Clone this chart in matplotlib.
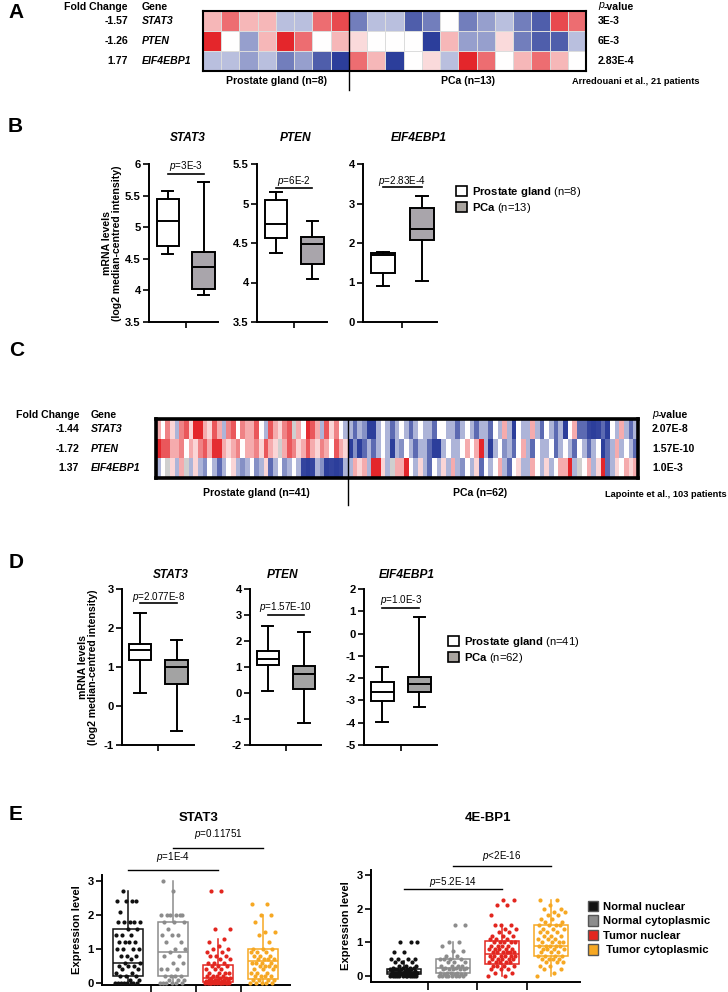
import matplotlib
matplotlib.use('Agg')
import matplotlib.pyplot as plt
import numpy as np
from matplotlib import font_manager
from matplotlib.colors import LinearSegmentedColormap
from matplotlib.patches import Patch

nan = np.nan

# ---------------- data ----------------
genes = ['STAT3', 'PTEN', 'EIF4EBP1']

# panel A heatmap (8 prostate gland + 13 PCa), colour level -3..3
A_fold = ['-1.57', '-1.26', '1.77']
A_pval = ['3E-3', '6E-3', '2.83E-4']
A_stat3 = [1, 2, 1, 1, -1, -1, 2, 2.5, -2, -1, -1, -2.5, -2, 0, -2, -1.5, -1, -2, -2.5, 2.5, 2]
A_pten = [3, 0, -1.5, 1, 3, 2, 0, 1, 0.5, 0, 0, 0, -3, 1, -1.5, -1.5, 0.5, -2, -2.5, -2.5, -1]
A_eif = [-1, -1, -1.5, -1, -2, -1.5, -2.5, -3, 2, 1, -3, 0, 0.5, -1, 3, 2, 0, 1, 2, 1, 0]
A_n = [8, 13]

# panel B boxes: (whislo, q1, med, q3, whishi)
B_normal = [(4.58, 4.70, 5.10, 5.44, 5.58), (4.37, 4.56, 4.74, 5.04, 5.15), (0.92, 1.23, 1.70, 1.74, 1.78)]
B_pca = [(3.93, 4.03, 4.37, 4.60, 5.72), (4.04, 4.24, 4.49, 4.58, 4.78), (1.03, 2.07, 2.35, 2.88, 3.20)]
B_p = ['3E-3', '6E-2', '2.83E-4']
B_yticks = [[3.5, 4, 4.5, 5, 5.5, 6], [3.5, 4, 4.5, 5, 5.5], [0, 1, 2, 3, 4]]
B_pbar = [5.84, 5.19, 3.41]

# panel C heatmap (41 prostate gland + 62 PCa)
C_fold = ['-1.44', '-1.72', '1.37']
C_pval = ['2.07E-8', '1.57E-10', '1.0E-3']
C_stat3 = [1, 0, 1.5, 0.5, -1, 1.5, 2, 0.5, 3, 3,
           1, 0.5, 2, 1, -1, 1.5, 2, 0, 1.5, 1,
           1, 2, 0, -1, 2, 1, 0.5, 1.5, 2, nan,
           1, 0, 2.5, 2, 1, -1, 2, 0.5, 1.5, 0, -1,
           -1, -2, -1, -1.5, -3, -3, -1, 0, -1, -2,
           -1, 0, -1, -2, -1, 0, -1, -1, -2, 0,
           0, -1, -1, -2, -1, 0, -1, -2, -1, -1,
           -2, 0, -1, 1, -1, -3, 0, -1, -1, 1,
           -1, -2, 0, -1, -2, -1, -3, 0, 1, -2,
           -2, -2.5, -3, -2.5, -2, -3, 0, -1, 1, -1,
           -2, -1]
C_pten = [3, 2, 2, 1, 1, 1.5, 0, 1, 0.5, 1.5,
          2, 1, 2.5, 2.5, 1, 0.5, 1, 1.5, 0, 1,
          1, 1.5, 0.5, 2, 1, 0.5, nan, 1, 2, 1.5,
          0.5, 1, 2, 1, 0.5, 1.5, 1, 0, 2, 1, 0.5,
          -3, -1.5, -3, -2, -1, -2, -1, 0, -1, -3,
          -1, -1.5, 0, -1, -2, -1, -1, -2, -3, -3,
          -1, 0, -1, -1, 0, 1, 0, 1, 3, -1,
          -3, -1, 0, -1.5, -1, -2, 0, 1, -1, -2,
          0, -1, -1, 0, -2, -1, 0, -1, -2, 0,
          -1, -2, -1, 0, -3, -2, -1, 1, -1, 0,
          -1, -2]
C_eif = [-1, 0, nan, 0.5, -1, 1, nan, -1, 0.5, -1,
         -1.5, 0, -1, -2, -1, 0, 0.5, -1, -1.5, -1,
         0, -1.5, -1, 0.5, -2, -1, 0, -1.5, -1, 0,
         -1, -2.5, -3, -2.5, -1, -1.5, -3, -2.5, -3, -2.5, -1,
         -1, 1, 0.5, 1, -1, 3, 3, 0.5, -1, nan,
         1, 1, 3, 0, -1, 0.5, -1, -2, 0, -1,
         0.5, -1, 1, -1, -1.5, 0, -1, 0.5, -2, 0,
         -1, 0, 1, -1, -2, 0, 0.5, -1, -1, 1,
         0, -1, 0.5, -1, 0, 1, 1, 3, -1, nan,
         0, 1, -1, 0.5, 3, -2, -1, 0.5, 0, 1,
         0.5, 1]
C_n = [41, 62]

# panel D boxes
D_normal = [(0.34, 1.17, 1.43, 1.60, 2.38), (0.07, 1.07, 1.32, 1.60, 2.56), (-3.97, -3.04, -2.60, -2.17, -1.50)]
D_pca = [(-0.64, 0.57, 1.00, 1.17, 1.70), (-1.15, 0.15, 0.73, 1.04, 2.35), (-3.30, -2.64, -2.25, -1.93, 0.74)]
D_p = ['2.077E-8', '1.57E-10', '1.0E-3']
D_yticks = [[-1, 0, 1, 2, 3], [-2, -1, 0, 1, 2, 3, 4], [-5, -4, -3, -2, -1, 0, 1, 2]]
D_pbar = [2.63, 3.0, 1.15]

# panel E
E_groups = ['Normal nuclear', 'Normal cytoplasmic', 'Tumor nuclear', ' Tumor cytoplasmic']
E_colors = ['#111111', '#8c8c8c', '#e2261f', '#f6a823']
E_stat3_box = [(0, 0.2, 0.6, 1.6, 2.7), (0, 0.2, 0.9, 1.8, 3.0), (0, 0.02, 0.15, 0.53, 1.3), (0, 0.13, 0.64, 1.0, 2.0)]
E_bp1_box = [(0, 0.05, 0.12, 0.22, 0.45), (0, 0.08, 0.25, 0.5, 1.0), (0, 0.35, 0.65, 1.05, 1.5), (0, 0.58, 0.9, 1.5, 2.25)]
E_stat3_pts = [
    [0, 0, 0, 0, 0, 0, 0, 0, 0.1, 0.1, 0.2, 0.2, 0.2, 0.3, 0.3, 0.4, 0.4, 0.5, 0.5, 0.5, 0.6, 0.6, 0.7,
     0.8, 0.8, 0.8, 1.0, 1.0, 1.0, 1.0, 1.2, 1.2, 1.2, 1.2, 1.4, 1.4, 1.4, 1.6, 1.6, 1.8, 1.8, 1.8, 1.8,
     1.8, 2.1, 2.4, 2.4, 2.4, 2.4, 2.7],
    [0, 0, 0, 0, 0, 0, 0.1, 0.1, 0.1, 0.2, 0.2, 0.2, 0.2, 0.4, 0.4, 0.4, 0.6, 0.6, 0.8, 0.8, 0.9, 1.0,
     1.0, 1.2, 1.2, 1.4, 1.4, 1.4, 1.6, 1.8, 1.8, 1.8, 2.0, 2.0, 2.0, 2.0, 2.0, 2.0, 2.7, 3.0],
    [0, 0, 0, 0, 0, 0, 0, 0, 0, 0, 0, 0, 0.05, 0.05, 0.05, 0.05, 0.1, 0.1, 0.1, 0.1, 0.1, 0.15, 0.15,
     0.15, 0.15, 0.2, 0.2, 0.2, 0.2, 0.3, 0.3, 0.3, 0.3, 0.4, 0.4, 0.4, 0.5, 0.5, 0.5, 0.6, 0.6, 0.6,
     0.7, 0.7, 0.8, 0.8, 0.8, 0.9, 0.9, 1.0, 1.0, 1.1, 1.2, 1.3, 1.6, 1.6, 2.7, 2.7],
    [0, 0, 0, 0, 0, 0.1, 0.1, 0.1, 0.1, 0.2, 0.2, 0.2, 0.2, 0.3, 0.3, 0.3, 0.4, 0.4, 0.4, 0.5, 0.5,
     0.5, 0.5, 0.6, 0.6, 0.6, 0.6, 0.7, 0.7, 0.7, 0.7, 0.8, 0.8, 0.8, 0.9, 0.9, 0.9, 1.0, 1.0, 1.0,
     1.2, 1.4, 1.5, 1.5, 1.8, 2.0, 2.0, 2.33, 2.33],
]
E_bp1_pts = [
    [0, 0, 0, 0, 0, 0, 0, 0, 0, 0, 0, 0, 0.05, 0.05, 0.05, 0.05, 0.05, 0.05, 0.1, 0.1, 0.1, 0.1, 0.1,
     0.1, 0.1, 0.1, 0.15, 0.15, 0.15, 0.15, 0.15, 0.2, 0.2, 0.2, 0.2, 0.2, 0.2, 0.25, 0.25, 0.25, 0.25,
     0.3, 0.3, 0.3, 0.4, 0.4, 0.4, 0.5, 0.5, 0.5, 0.5, 0.7, 0.7, 1.0, 1.0, 1.0],
    [0, 0, 0, 0, 0, 0, 0, 0, 0.05, 0.05, 0.05, 0.05, 0.1, 0.1, 0.1, 0.1, 0.2, 0.2, 0.2, 0.2, 0.2,
     0.25, 0.25, 0.25, 0.3, 0.3, 0.3, 0.3, 0.4, 0.4, 0.4, 0.5, 0.5, 0.5, 0.5, 0.6, 0.6, 0.75, 0.75,
     0.9, 1.0, 1.0, 1.5, 1.5],
    [0, 0, 0.1, 0.1, 0.2, 0.2, 0.2, 0.3, 0.3, 0.3, 0.3, 0.4, 0.4, 0.4, 0.4, 0.4, 0.5, 0.5, 0.5, 0.5,
     0.5, 0.6, 0.6, 0.6, 0.6, 0.6, 0.6, 0.7, 0.7, 0.7, 0.7, 0.7, 0.7, 0.8, 0.8, 0.8, 0.8, 0.8, 0.9,
     0.9, 0.9, 0.9, 1.0, 1.0, 1.0, 1.0, 1.0, 1.1, 1.1, 1.1, 1.2, 1.2, 1.2, 1.3, 1.3, 1.4, 1.4, 1.5,
     1.5, 1.5, 1.8, 2.1, 2.1, 2.25, 2.25],
    [0, 0.1, 0.2, 0.2, 0.3, 0.3, 0.4, 0.4, 0.4, 0.5, 0.5, 0.5, 0.5, 0.6, 0.6, 0.6, 0.6, 0.7, 0.7, 0.7,
     0.8, 0.8, 0.8, 0.8, 0.9, 0.9, 0.9, 0.9, 0.9, 1.0, 1.0, 1.0, 1.0, 1.1, 1.1, 1.1, 1.2, 1.2, 1.2,
     1.3, 1.3, 1.3, 1.4, 1.4, 1.4, 1.5, 1.5, 1.5, 1.5, 1.6, 1.6, 1.7, 1.7, 1.8, 1.8, 1.9, 1.9, 2.0,
     2.0, 2.1, 2.25, 2.25],
]

# ---------------- style ----------------
names = {f.name for f in font_manager.fontManager.ttflist}
if 'Liberation Sans Narrow' in names:
    FONT, K = 'Liberation Sans Narrow', 1.15
else:
    FONT, K = 'Liberation Sans', 0.95
plt.rcParams['font.family'] = FONT
plt.rcParams['mathtext.fontset'] = 'custom'
plt.rcParams['mathtext.rm'] = FONT
plt.rcParams['mathtext.it'] = FONT + ':italic'
plt.rcParams['mathtext.bf'] = FONT + ':bold'

W, H = 728, 992
fig = plt.figure(figsize=(W / 100, H / 100), dpi=100)

cmap = LinearSegmentedColormap.from_list('bwr2', ['#2c3e9b', '#ffffff', '#e4262b'])
cmap.set_bad('#cfcfcf')


def pax(x0, y0, x1, y1):
    return fig.add_axes([x0 / W, 1 - y1 / H, (x1 - x0) / W, (y1 - y0) / H])


def ftxt(x, y, s, size=8, **kw):
    fig.text(x / W, 1 - y / H, s, fontsize=size * K, va='center', **kw)


def heatmap(box, rows, nsplit, ext, frame_lw, edge, elw, vmax):
    ax = pax(*box)
    data = np.ma.masked_invalid(np.array(rows, dtype=float))
    ax.pcolormesh(data, cmap=cmap, vmin=-vmax, vmax=vmax, edgecolors=edge, linewidth=elw)
    ax.set_xlim(0, data.shape[1])
    ax.set_ylim(3, 0)
    ax.set_xticks([])
    ax.set_yticks([])
    for s in ax.spines.values():
        s.set_linewidth(frame_lw)
    ax.plot([nsplit, nsplit], [0, 3 + ext], color='k', lw=1.0, clip_on=False)
    return ax


def style_axes(ax, yticks, size=8.5):
    for s in ['top', 'right']:
        ax.spines[s].set_visible(False)
    for s in ['left', 'bottom']:
        ax.spines[s].set_linewidth(1.4)
    ax.set_yticks(yticks, [('%g' % t) for t in yticks], fontweight='bold', fontsize=size * K)
    ax.tick_params(width=1.2, length=4, pad=2)


def ptext(ax, x0, x1, ybar, ytxt, s, rel='=', lw=1.2, size=7.5):
    ax.plot([x0, x1], [ybar, ybar], color='k', lw=lw, clip_on=False)
    ax.text((x0 + x1) / 2, ytxt, r'$\it{p}$' + rel + s, ha='center', va='center',
            fontsize=size * K, clip_on=False)


def two_box(ax, normal, pca, face, ylim, yticks, pbar, ptxt_y, ptxt):
    stats = [dict(whislo=b[0], q1=b[1], med=b[2], q3=b[3], whishi=b[4]) for b in (normal, pca)]
    bp = ax.bxp(stats, positions=[1, 2], widths=0.62, patch_artist=True, showfliers=False,
                boxprops=dict(linewidth=1.4, edgecolor='k'),
                medianprops=dict(color='k', linewidth=1.4),
                whiskerprops=dict(color='k', linewidth=1.4),
                capprops=dict(color='k', linewidth=1.4))
    bp['boxes'][0].set_facecolor('white')
    bp['boxes'][1].set_facecolor(face)
    ax.set_xlim(0.48, 2.4)
    ax.set_ylim(*ylim)
    ax.set_xticks([1.5], [''])
    style_axes(ax, yticks)
    ptext(ax, 1, 2, pbar, ptxt_y, ptxt)


# ---------------- panel A ----------------
ftxt(8, 13, 'A', size=15 / K, fontweight='bold')
heatmap((203, 11, 586, 71), [A_stat3, A_pten, A_eif], A_n[0], 19 / 20, 1.5, '#dcdcdc', 0.4, 3)
ftxt(128, 6.5, 'Fold Change', ha='right', fontweight='bold')
ftxt(142, 6.5, 'Gene', fontweight='bold')
ftxt(598, 6.5, r'$\it{p}$', fontweight='bold')
ftxt(604, 6.5, '-value', fontweight='bold')
for i, yy in enumerate([21, 41, 61]):
    ftxt(128, yy, A_fold[i], ha='right', fontweight='bold')
    ftxt(142, yy, genes[i], fontweight='bold', fontstyle='italic')
    ftxt(598, yy, A_pval[i], fontweight='bold')
ftxt(276, 81, 'Prostate gland (n=%d)' % A_n[0], ha='center', fontweight='bold')
ftxt(468, 81, 'PCa (n=%d)' % A_n[1], ha='center', fontweight='bold')
ftxt(572, 81, 'Arredouani et al., 21 patients', size=7, fontweight='bold')

# ---------------- panel B ----------------
ftxt(8, 126, 'B', size=15 / K, fontweight='bold')
B_boxes = [(149, 164, 218, 322), (257, 164, 327, 322), (363, 164, 437, 322)]
B_titles_x = [188, 296, 419]
B_ylims = [(3.5, 6), (3.5, 5.5), (0, 4)]
B_ptxt = [5.97, 5.29, 3.58]
for i in range(3):
    ax = pax(*B_boxes[i])
    two_box(ax, B_normal[i], B_pca[i], '#a9a5ab', B_ylims[i], B_yticks[i], B_pbar[i], B_ptxt[i], B_p[i])
    ftxt(B_titles_x[i], 138, genes[i], size=9, ha='center', fontweight='bold', fontstyle='italic')
ftxt(112, 243, 'mRNA levels\n(log2 median-centred intensity)', size=8, ha='center',
     rotation=90, fontweight='bold', multialignment='center', linespacing=1.0)
fig.legend(handles=[Patch(facecolor='white', edgecolor='k', lw=1.2),
                    Patch(facecolor='#a9a49f', edgecolor='k', lw=1.2)],
           labels=[r'$\bf{Prostate\ gland}$ (n=8)', r'$\bf{PCa}$ (n=13)'],
           loc='upper left', bbox_to_anchor=(450 / W, 1 - 179 / H), frameon=False,
           fontsize=8.5 * K, handlelength=1.0, handleheight=1.0, handletextpad=0.5,
           labelspacing=0.2, borderpad=0)

# ---------------- panel C ----------------
ftxt(9, 350, 'C', size=15 / K, fontweight='bold')
heatmap((156, 419, 638, 478), [C_stat3, C_pten, C_eif], C_n[0], 27 / 19.7, 2.6, 'face', 0.0, 2.6)
ftxt(79, 415, 'Fold Change', ha='right', fontweight='bold')
ftxt(91, 415, 'Gene', fontweight='bold')
ftxt(652, 415, r'$\it{p}$', fontweight='bold')
ftxt(658, 415, '-value', fontweight='bold')
for i, yy in enumerate([429, 448.5, 468]):
    ftxt(79, yy, C_fold[i], ha='right', fontweight='bold')
    ftxt(91, yy, genes[i], fontweight='bold', fontstyle='italic')
    ftxt(652, yy, C_pval[i], fontweight='bold')
ftxt(256, 493, 'Prostate gland (n=%d)' % C_n[0], ha='center', fontweight='bold')
ftxt(480, 493, 'PCa (n=%d)' % C_n[1], ha='center', fontweight='bold')
ftxt(727, 494, 'Lapointe et al., 103 patients', size=7, ha='right', fontweight='bold')

# ---------------- panel D ----------------
ftxt(9, 562, 'D', size=15 / K, fontweight='bold')
D_boxes = [(122, 589, 194, 745), (250, 589, 321, 745), (364, 589, 437, 745)]
D_titles_x = [171, 283, 407]
D_ylims = [(-1, 3), (-2, 4), (-5, 2)]
D_ptxt = [2.79, 3.32, 1.51]
for i in range(3):
    ax = pax(*D_boxes[i])
    two_box(ax, D_normal[i], D_pca[i], '#a3a3a3', D_ylims[i], D_yticks[i], D_pbar[i], D_ptxt[i], D_p[i])
    ax.set_xlim(0.51, 2.47)
    ftxt(D_titles_x[i], 575, genes[i], size=9, ha='center', fontweight='bold', fontstyle='italic')
ftxt(88, 667, 'mRNA levels\n(log2 median-centred intensity)', size=8, ha='center',
     rotation=90, fontweight='bold', multialignment='center', linespacing=1.0)
fig.legend(handles=[Patch(facecolor='white', edgecolor='k', lw=1.2),
                    Patch(facecolor='#a9a49f', edgecolor='k', lw=1.2)],
           labels=[r'$\bf{Prostate\ gland}$ (n=41)', r'$\bf{PCa}$ (n=62)'],
           loc='upper left', bbox_to_anchor=(442 / W, 1 - 629 / H), frameon=False,
           fontsize=8.5 * K, handlelength=1.0, handleheight=1.0, handletextpad=0.5,
           labelspacing=0.2, borderpad=0)

# ---------------- panel E ----------------
ftxt(9, 815, 'E', size=15 / K, fontweight='bold')


def e_panel(box, bstats, pts, xlim, ylim, title_x, title):
    ax = pax(*box)
    stats = [dict(whislo=b[0], q1=b[1], med=b[2], q3=b[3], whishi=b[4]) for b in bstats]
    bp = ax.bxp(stats, positions=[1, 2, 3, 4], widths=0.68, patch_artist=True, showfliers=False,
                showcaps=False, boxprops=dict(linewidth=1.1, facecolor='none'),
                medianprops=dict(linewidth=1.1), whiskerprops=dict(linewidth=1.1))
    for j, c in enumerate(E_colors):
        bp['boxes'][j].set_edgecolor(c)
        bp['medians'][j].set_color(c)
        bp['whiskers'][2 * j].set_color(c)
        bp['whiskers'][2 * j + 1].set_color(c)
        yv = np.array(pts[j])
        off = ((np.arange(len(yv)) * 0.618034) % 1 - 0.5) * 0.56
        ax.scatter(j + 1 + off, yv, s=9, color=c, lw=0, zorder=3, clip_on=False)
    ax.set_xlim(*xlim)
    ax.set_ylim(*ylim)
    ax.set_xticks([1.5, 2.5, 3.5], ['', '', ''])
    style_axes(ax, [0, 1, 2, 3], size=8.5)
    ax.tick_params(axis='x', length=6)
    ax.set_ylabel('Expression level', fontsize=8.5 * K, fontweight='bold', labelpad=4)
    ftxt(title_x, 818, title, size=10, ha='center', fontweight='bold')
    return ax


axE1 = e_panel((102, 875, 290, 985), E_stat3_box, E_stat3_pts, (0.42, 4.6), (-0.06, 3.18), 199, 'STAT3')
ptext(axE1, 1, 3, 3.32, 3.72, '1E-4', lw=1.0)
ptext(axE1, 2, 4, 3.97, 4.38, '0.11751', lw=1.0)
axE2 = e_panel((371, 870, 580, 982), E_bp1_box, E_bp1_pts, (0.33, 4.59), (-0.18, 3.15), 488, '4E-BP1')
ptext(axE2, 1, 3, 2.58, 2.78, '5.2E-14', lw=1.0)
ptext(axE2, 2, 4, 3.27, 3.56, '2E-16', rel='<', lw=1.0)

fig.legend(handles=[Patch(facecolor=c, edgecolor='#555555', lw=1.0) for c in E_colors],
           labels=E_groups, loc='upper left', bbox_to_anchor=(582 / W, 1 - 895 / H), frameon=False,
           prop={'weight': 'bold', 'size': 8.5 * K}, handlelength=0.9, handleheight=1.1,
           handletextpad=0.5, labelspacing=0.3, borderpad=0)

fig.savefig('out.png', dpi=100)
